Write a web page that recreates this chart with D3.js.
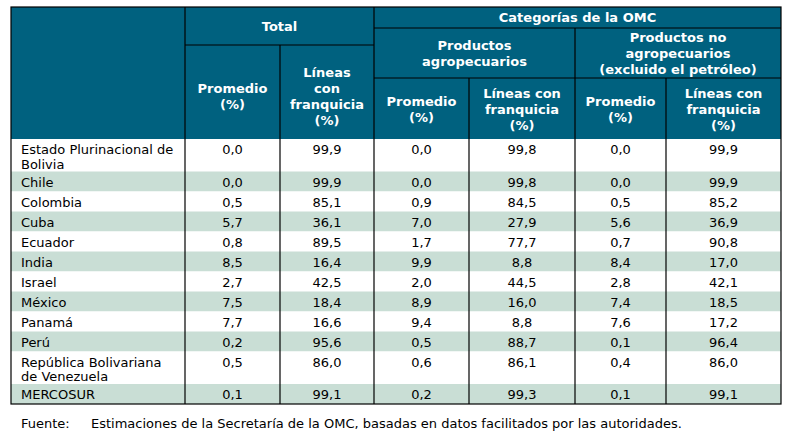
<!DOCTYPE html>
<html><head><meta charset="utf-8">
<script src="https://cdn.jsdelivr.net/npm/d3@7"></script>
<style>body{margin:0;background:#fff}text{font-family:"DejaVu Sans",Verdana,sans-serif}</style>
</head><body><div id="chart"></div>
<script>
// data
var countries = [["Estado Plurinacional de","Bolivia"],["Chile"],["Colombia"],["Cuba"],["Ecuador"],["India"],["Israel"],["México"],["Panamá"],["Perú"],["República Bolivariana","de Venezuela"],["MERCOSUR"]];
var totalProm = ["0,0","0,0","0,5","5,7","0,8","8,5","2,7","7,5","7,7","0,2","0,5","0,1"];
var totalLin  = ["99,9","99,9","85,1","36,1","89,5","16,4","42,5","18,4","16,6","95,6","86,0","99,1"];
var agroProm  = ["0,0","0,0","0,9","7,0","1,7","9,9","2,0","8,9","9,4","0,5","0,6","0,2"];
var agroLin   = ["99,8","99,8","84,5","27,9","77,7","8,8","44,5","16,0","8,8","88,7","86,1","99,3"];
var noAgProm  = ["0,0","0,0","0,5","5,6","0,7","8,4","2,8","7,4","7,6","0,1","0,4","0,1"];
var noAgLin   = ["99,9","99,9","85,2","36,9","90,8","17,0","42,1","18,5","17,2","96,4","86,0","99,1"];
var source = "Estimaciones de la Secretaría de la OMC, basadas en datos facilitados por las autoridades.";

var W = 794, H = 436, fs = 13;
var svg = d3.select("#chart").append("svg").attr("width", W).attr("height", H);
var headBg = "#00617f", stripe = "#c9ded5";
var colX = [11, 185, 280, 374, 469, 575, 666, 781];
var tableTop = 7, h1 = 28, h2 = 78, bodyTop = 139;

// row positions from line counts
var rowY = [], y = bodyTop;
countries.forEach(function(c) { rowY.push(y); y += c.length === 2 ? 32.5 : 20; });
var bottom = y;

// header background
svg.append("rect").attr("x", colX[0]).attr("y", tableTop).attr("width", colX[7]-colX[0]).attr("height", bodyTop-tableTop).attr("fill", headBg);

// body rows
var rows = svg.selectAll(".row").data(countries).enter().append("g");
rows.append("rect")
  .attr("x", colX[0]).attr("y", (d,i) => rowY[i])
  .attr("width", colX[7]-colX[0]).attr("height", (d,i) => (i+1<rowY.length ? rowY[i+1] : bottom) - rowY[i])
  .attr("fill", (d,i) => i % 2 ? stripe : "#fff");

rows.each(function(d, i) {
  var g = d3.select(this);
  d.forEach(function(line, k) {
    g.append("text").attr("x", 21).attr("y", rowY[i] + 15 + k*14.5).attr("font-size", fs).text(line);
  });
  [totalProm, totalLin, agroProm, agroLin, noAgProm, noAgLin].forEach(function(arr, c) {
    g.append("text").attr("x", (colX[c+1]+colX[c+2])/2).attr("y", rowY[i] + 15)
      .attr("text-anchor", "middle").attr("font-size", fs).text(arr[i]);
  });
});

function line(x1, y1, x2, y2) {
  svg.append("line").attr("x1", x1).attr("y1", y1).attr("x2", x2).attr("y2", y2)
    .attr("stroke", "#000").attr("stroke-width", 1.2);
}
function htext(lines, cx, cy) {
  var n = lines.length;
  lines.forEach(function(t, k) {
    svg.append("text").attr("x", cx).attr("y", cy + (k - (n-1)/2) * 16 + 4.5)
      .attr("text-anchor", "middle").attr("fill", "#fff").attr("font-weight", "bold")
      .attr("font-size", fs).text(t);
  });
}
htext(["Total"], (colX[1]+colX[3])/2, (tableTop+45)/2);
htext(["Categorías de la OMC"], (colX[3]+colX[7])/2, (tableTop+h1)/2);
htext(["Productos","agropecuarios"], (colX[3]+colX[5])/2, (h1+h2)/2);
htext(["Productos no","agropecuarios","(excluido el petróleo)"], (colX[5]+colX[7])/2, (h1+h2)/2);
htext(["Promedio","(%)"], (colX[1]+colX[2])/2, 96);
htext(["Líneas","con","franquicia","(%)"], (colX[2]+colX[3])/2, 96);
htext(["Promedio","(%)"], (colX[3]+colX[4])/2, 109);
htext(["Líneas con","franquicia","(%)"], (colX[4]+colX[5])/2, 109);
htext(["Promedio","(%)"], (colX[5]+colX[6])/2, 109);
htext(["Líneas con","franquicia","(%)"], (colX[6]+colX[7])/2, 109);

line(colX[1], 45, colX[3], 45);
line(colX[3], h1, colX[7], h1);
line(colX[3], h2, colX[7], h2);
for (var c = 1; c < 7; c++) {
  var y0 = c === 2 ? 45 : (c === 4 || c === 6) ? h2 : (c === 5 ? h1 : tableTop);
  line(colX[c], y0, colX[c], bottom);
}
svg.append("rect").attr("x", colX[0]).attr("y", tableTop).attr("width", colX[7]-colX[0]).attr("height", bottom-tableTop)
  .attr("fill", "none").attr("stroke", "#000").attr("stroke-width", 1.2);

// footnote
svg.append("text").attr("x", 21).attr("y", 428).attr("font-size", fs).text("Fuente:");
svg.append("text").attr("x", 91).attr("y", 428).attr("font-size", fs).text(source);
</script></body></html>
